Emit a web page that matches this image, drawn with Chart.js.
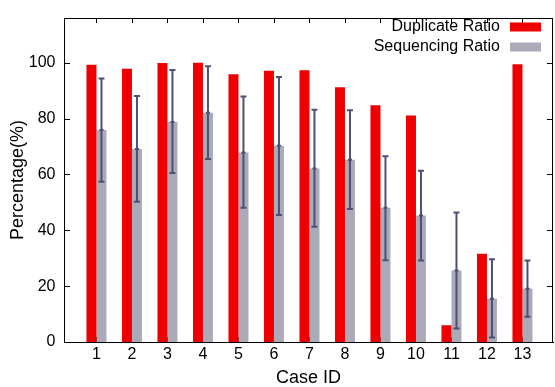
<!DOCTYPE html>
<html>
<head>
<meta charset="utf-8">
<script src="https://cdn.jsdelivr.net/npm/chart.js@4/dist/chart.umd.min.js"></script>
<style>
  html, body { margin: 0; padding: 0; background: #fff; }
  #wrap { width: 555px; height: 387px; }
</style>
</head>
<body>
<div id="wrap"><canvas id="myChart" width="555" height="387"></canvas></div>
<script>
var caseIds = [1, 2, 3, 4, 5, 6, 7, 8, 9, 10, 11, 12, 13];
var xTickLabels = ['1', '2', '3', '4', '5', '6', '7', '8', '9', '10', '11', '12', '13'];
var yTicks = [0, 20, 40, 60, 80, 100];

var duplicateRatio = [99.3, 97.9, 99.9, 100, 95.9, 97.1, 97.3, 91.2, 84.8, 81.1, 6.0, 31.6, 99.5];
var sequencingRatio = [75.9, 69.1, 78.8, 82.1, 67.9, 70.3, 62.1, 65.3, 48.1, 45.3, 25.6, 15.5, 19.1];
var sequencingLow = [57.4, 50.2, 60.5, 65.5, 48.1, 45.5, 41.3, 47.6, 29.3, 29.2, 4.8, 1.6, 9.0];
var sequencingHigh = [94.4, 88.1, 97.4, 98.8, 87.9, 94.9, 83.2, 83.0, 66.5, 61.3, 46.4, 29.6, 29.2];

var fontFamily = '"Liberation Sans", Arial, Helvetica, sans-serif';
var red = '#ee0000';
var gray = '#aaaab9';
var errColor = '#4c5073';

function points(values) {
    return caseIds.map(function (id, i) { return { x: id, y: values[i] }; });
}

// gnuplot style frame: top/right border and inward ticks
var framePlugin = {
    id: 'frame',
    beforeDatasetsDraw: function (chart) {
        var ctx = chart.ctx, a = chart.chartArea;
        var xs = chart.scales.x, ys = chart.scales.y;
        ctx.save();
        ctx.strokeStyle = '#000';
        ctx.lineWidth = 1;
        ctx.beginPath();
        caseIds.forEach(function (id) {
            var px = Math.round(xs.getPixelForValue(id)) + 0.5;
            ctx.moveTo(px, a.top); ctx.lineTo(px, a.top + 5);
            ctx.moveTo(px, a.bottom); ctx.lineTo(px, a.bottom - 5);
        });
        yTicks.forEach(function (v) {
            var py = Math.round(ys.getPixelForValue(v)) + 0.5;
            ctx.moveTo(a.left, py); ctx.lineTo(a.left + 6, py);
            ctx.moveTo(a.right, py); ctx.lineTo(a.right - 6, py);
        });
        ctx.stroke();
        ctx.restore();
    },
    afterDraw: function (chart) {
        var ctx = chart.ctx, a = chart.chartArea;
        ctx.save();
        ctx.strokeStyle = '#000';
        ctx.lineWidth = 1;
        ctx.beginPath();
        ctx.moveTo(a.left, Math.round(a.top) + 0.5);
        ctx.lineTo(a.right, Math.round(a.top) + 0.5);
        ctx.moveTo(Math.round(a.right) - 0.5, a.top);
        ctx.lineTo(Math.round(a.right) - 0.5, a.bottom);
        ctx.stroke();
        ctx.restore();
    }
};

var errorBarPlugin = {
    id: 'errorBars',
    afterDatasetsDraw: function (chart) {
        var ctx = chart.ctx, ys = chart.scales.y;
        var meta = chart.getDatasetMeta(1);
        ctx.save();
        ctx.strokeStyle = errColor;
        ctx.lineWidth = 2;
        meta.data.forEach(function (bar, i) {
            var x = bar.x;
            var lo = ys.getPixelForValue(sequencingLow[i]);
            var hi = ys.getPixelForValue(sequencingHigh[i]);
            var mid = ys.getPixelForValue(sequencingRatio[i]);
            ctx.beginPath();
            ctx.moveTo(x, lo); ctx.lineTo(x, hi);
            ctx.moveTo(x - 3, lo); ctx.lineTo(x + 3, lo);
            ctx.moveTo(x - 3, hi); ctx.lineTo(x + 3, hi);
            ctx.moveTo(x - 2, mid); ctx.lineTo(x + 2, mid);
            ctx.stroke();
        });
        ctx.restore();
    }
};

// key in the top right corner, text left of the swatch
var keyPlugin = {
    id: 'key',
    afterDraw: function (chart) {
        var ctx = chart.ctx;
        ctx.save();
        ctx.font = '16px ' + fontFamily;
        ctx.textAlign = 'right';
        ctx.textBaseline = 'middle';
        chart.data.datasets.forEach(function (ds, i) {
            var cy = 27 + i * 20;
            ctx.fillStyle = '#000';
            ctx.fillText(ds.label, 500, cy);
            ctx.fillStyle = ds.backgroundColor;
            ctx.fillRect(510, cy - 4.5, 31, 9);
        });
        ctx.restore();
    }
};

var ctx = document.getElementById('myChart').getContext('2d');
var myChart = new Chart(ctx, {
    type: 'bar',
    data: {
        datasets: [{
            label: 'Duplicate Ratio',
            data: points(duplicateRatio),
            backgroundColor: red
        }, {
            label: 'Sequencing Ratio',
            data: points(sequencingRatio),
            backgroundColor: gray
        }]
    },
    options: {
        responsive: false,
        animation: false,
        categoryPercentage: 0.563,
        barPercentage: 1.0,
        layout: { padding: { top: 12, right: 2, left: 0, bottom: 0 } },
        plugins: {
            legend: { display: false },
            tooltip: { enabled: false }
        },
        scales: {
            x: {
                type: 'linear',
                offset: false,
                min: 0.0855,
                max: 13.86,
                grid: { display: false, drawTicks: false, offset: false },
                border: { display: true, color: '#000', width: 1 },
                afterBuildTicks: function (scale) {
                    scale.ticks = caseIds.map(function (v) { return { value: v }; });
                },
                afterFit: function (scale) { scale.height = 45; },
                ticks: {
                    autoSkip: false,
                    maxRotation: 0,
                    padding: 3,
                    color: '#000',
                    font: { family: fontFamily, size: 16 },
                    callback: function (v) {
                        var i = caseIds.indexOf(v);
                        return i >= 0 ? xTickLabels[i] : '';
                    }
                },
                title: {
                    display: true,
                    text: 'Case ID',
                    color: '#000',
                    font: { family: fontFamily, size: 18, lineHeight: 1 },
                    padding: { top: 0, bottom: 0 }
                }
            },
            y: {
                min: 0,
                max: 116,
                grid: { display: false, drawTicks: false },
                border: { display: true, color: '#000', width: 1 },
                afterBuildTicks: function (scale) {
                    scale.ticks = yTicks.map(function (v) { return { value: v }; });
                },
                afterFit: function (scale) { scale.width = 64; },
                ticks: {
                    padding: 8.5,
                    color: '#000',
                    font: { family: fontFamily, size: 16 }
                },
                title: {
                    display: true,
                    text: 'Percentage(%)',
                    color: '#000',
                    font: { family: fontFamily, size: 18, lineHeight: 1 },
                    padding: { top: 9, bottom: 0 }
                }
            }
        }
    },
    plugins: [framePlugin, errorBarPlugin, keyPlugin]
});
</script>
</body>
</html>
